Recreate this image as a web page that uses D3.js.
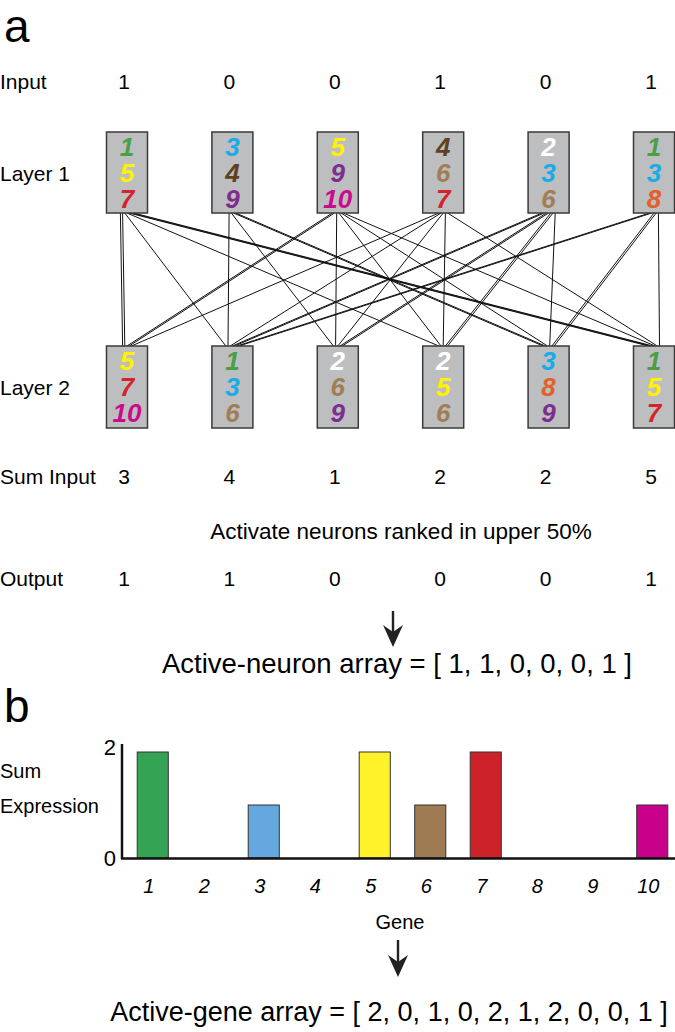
<!DOCTYPE html>
<html><head><meta charset="utf-8">
<script src="https://cdn.jsdelivr.net/npm/d3@7"></script>
<style>body{margin:0;background:#fff}svg{display:block;font-family:"Liberation Sans",Arial,sans-serif}</style>
</head><body><svg id="c" width="675" height="1032"></svg>
<script>
const neurons = [1,2,3,4,5,6];
const inputValues = [1,0,0,1,0,1];
const layer1Genes = [[1,5,7],[3,4,9],[5,9,10],[4,6,7],[2,3,6],[1,3,8]];
const layer2Genes = [[5,7,10],[1,3,6],[2,6,9],[2,5,6],[3,8,9],[1,5,7]];
const sumInput = [3,4,1,2,2,5];
const outputValues = [1,1,0,0,0,1];
const genes = [1,2,3,4,5,6,7,8,9,10];
const geneExpression = [2,0,1,0,2,1,2,0,0,1];
const geneTextColors = ["#4a9e45","#ffffff","#1aabe6","#5e4022","#fff200","#a07d52","#d4232a","#e2612a","#7e2d8e","#cc0a8c"];
const geneBarColors = ["#34a353","#ffffff","#64a8df","#5e4022","#fff22b","#9e7b53","#cd2229","#e2612a","#7e2d8e","#c9008a"];
const yTicks = [0,2];

const svg = d3.select("#c");
const x = d3.scalePoint().domain(neurons).range([127,654]);
const BW = 41, L1top = 132, L1h = 81, L2top = 346, L2h = 82;

svg.append("text").attr("x",4).attr("y",42).attr("font-size",46).text("a");
svg.append("text").attr("x",4).attr("y",722).attr("font-size",46).text("b");

const lab = (t,y)=>svg.append("text").attr("x",0).attr("y",y).attr("font-size",21).text(t);
lab("Input",89); lab("Layer 1",181); lab("Layer 2",395); lab("Sum Input",484); lab("Output",586);

const row = (vals,y)=>svg.append("g").selectAll("text").data(vals).join("text")
  .attr("x",(d,i)=>x(neurons[i])-3).attr("y",y).attr("text-anchor","middle").attr("font-size",21).text(d=>d);
row(inputValues,89); row(sumInput,484); row(outputValues,586);

// connections: a line for every gene shared by a layer-1 and a layer-2 neuron
const conns = [];
layer2Genes.forEach((gs,j)=>gs.forEach(g=>layer1Genes.forEach((hs,i)=>{ if(hs.includes(g)) conns.push({i,j,g}); })));
neurons.forEach((n,i)=>{
  const o = conns.filter(c=>c.i===i).sort((a,b)=>a.j-b.j||a.g-b.g);
  o.forEach((c,k)=>c.so=(k-(o.length-1)/2)*2.2);
  const q = conns.filter(c=>c.j===i).sort((a,b)=>a.i-b.i||a.g-b.g);
  q.forEach((c,k)=>c.to=(k-(q.length-1)/2)*2.2);
});
svg.append("g").selectAll("line").data(conns).join("line")
  .attr("x1",c=>x(neurons[c.i])+c.so).attr("y1",L1top+L1h)
  .attr("x2",c=>x(neurons[c.j])+c.to).attr("y2",L2top)
  .attr("stroke","#111").attr("stroke-width",1);

function boxes(data,top,h){
  const g = svg.append("g").selectAll("g").data(data).join("g")
    .attr("transform",(d,i)=>`translate(${x(neurons[i])},${top})`);
  g.append("rect").attr("x",-BW/2).attr("y",0).attr("width",BW).attr("height",h)
    .attr("fill","#bcbec0").attr("stroke","#3a3a3a").attr("stroke-width",1.5);
  g.selectAll("text").data(d=>d).join("text")
    .attr("x",0).attr("y",(d,k)=>24+k*26).attr("text-anchor","middle")
    .attr("font-size",26).attr("font-weight","bold").attr("font-style","italic")
    .attr("fill",d=>geneTextColors[d-1]).text(d=>d);
}
boxes(layer1Genes,L1top,L1h);
boxes(layer2Genes,L2top,L2h);

svg.append("text").attr("x",401).attr("y",539).attr("text-anchor","middle").attr("font-size",22.5)
  .text("Activate neurons ranked in upper 50%");

function arrow(cx,y0,y1){
  svg.append("line").attr("x1",cx).attr("x2",cx).attr("y1",y0).attr("y2",y1-12).attr("stroke","#222").attr("stroke-width",2.4);
  svg.append("path").attr("d",`M${cx-10},${y1-22} L${cx},${y1-15} L${cx+10},${y1-22} L${cx},${y1} Z`).attr("fill","#222");
}
arrow(393,611,647);
svg.append("text").attr("x",397).attr("y",673).attr("text-anchor","middle").attr("font-size",27.5)
  .text("Active-neuron array = [ " + outputValues.join(", ") + " ]");

// bar chart
const xb = d3.scaleBand().domain(genes).range([125,680]).paddingInner(0.44).paddingOuter(0.22);
const yb = d3.scaleLinear().domain([0,2]).range([858,752]);
svg.append("g").selectAll("rect")
  .data(genes.map((g,i)=>({g,v:geneExpression[i]})).filter(d=>d.v>0)).join("rect")
  .attr("x",d=>xb(d.g)).attr("y",d=>yb(d.v)).attr("width",xb.bandwidth()).attr("height",d=>yb(0)-yb(d.v))
  .attr("fill",d=>geneBarColors[d.g-1]).attr("stroke","#333").attr("stroke-width",1);
svg.append("line").attr("x1",122).attr("x2",122).attr("y1",744).attr("y2",859).attr("stroke","#111").attr("stroke-width",2.5);
svg.append("line").attr("x1",121).attr("x2",675).attr("y1",858.5).attr("y2",858.5).attr("stroke","#111").attr("stroke-width",2.5);
svg.append("g").selectAll("text").data(yTicks).join("text")
  .attr("x",116).attr("y",d=>d===0?866:yb(d)+3).attr("text-anchor","end").attr("font-size",22).text(d=>d);
svg.append("g").selectAll("text").data(genes).join("text")
  .attr("x",d=>xb(d)+xb.bandwidth()/2-4).attr("y",893).attr("text-anchor","middle")
  .attr("font-size",20).attr("font-style","italic").text(d=>d);
svg.append("text").attr("x",0).attr("y",778).attr("font-size",20).text("Sum");
svg.append("text").attr("x",0).attr("y",813).attr("font-size",20).text("Expression");
svg.append("text").attr("x",400).attr("y",929).attr("text-anchor","middle").attr("font-size",20).text("Gene");
arrow(398,940,977);
svg.append("text").attr("x",389).attr("y",1021).attr("text-anchor","middle").attr("font-size",27)
  .text("Active-gene array = [ " + geneExpression.join(", ") + " ]");
</script></body></html>
